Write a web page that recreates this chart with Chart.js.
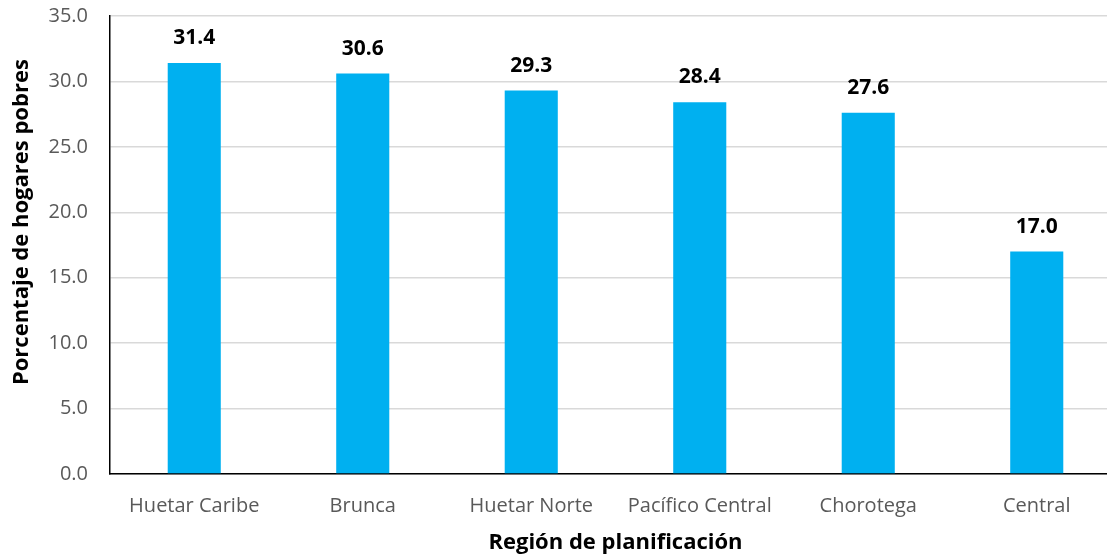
<!DOCTYPE html>
<html>
<head>
<meta charset="utf-8">
<script src="https://cdn.jsdelivr.net/npm/chart.js@4.4.0/dist/chart.umd.min.js"></script>
<style>
  html, body { margin: 0; padding: 0; background: #fff; overflow: hidden; }
  #wrap { width: 1121px; height: 576px; margin-top: -18px; }
</style>
</head>
<body>
<div id="wrap"><canvas id="chart" width="1121" height="576"></canvas></div>
<script>
// ====== DATOS ======
const regiones = ["Huetar Caribe", "Brunca", "Huetar Norte", "Pacífico Central", "Chorotega", "Central"];
const hogaresPobres = [31.4, 30.6, 29.3, 28.4, 27.6, 17.0];
const yTicks = [0, 5, 10, 15, 20, 25, 30, 35];

const FONT = "'Open Sans', sans-serif";

// etiquetas de valor sobre cada barra
const etiquetasPlugin = {
  id: "etiquetas",
  afterDatasetsDraw(chart) {
    const ctx = chart.ctx;
    const meta = chart.getDatasetMeta(0);
    ctx.save();
    ctx.font = "bold 21px " + FONT;
    ctx.fillStyle = "#000";
    ctx.textAlign = "center";
    ctx.textBaseline = "middle";
    meta.data.forEach((bar, i) => {
      ctx.fillText(hogaresPobres[i].toFixed(1), bar.x, bar.y - 25);
    });
    ctx.restore();
  }
};

new Chart(document.getElementById("chart").getContext("2d"), {
  type: "bar",
  data: {
    labels: regiones,
    datasets: [{
      data: hogaresPobres,
      backgroundColor: "#00B0F0",
      borderWidth: 0,
      categoryPercentage: 1,
      barPercentage: 0.315
    }]
  },
  options: {
    responsive: false,
    animation: false,
    layout: { padding: { top: 0, left: 0, right: 0, bottom: 0 } },
    plugins: { legend: { display: false }, tooltip: { enabled: false } },
    scales: {
      x: {
        afterFit: axis => { axis.height = 84; },
        grid: { display: false, drawTicks: false },
        border: { color: "#000", width: 1.5 },
        ticks: { color: "#595959", font: { family: FONT, size: 20 }, padding: 20 },
        title: { display: true, text: "Región de planificación", color: "#000", font: { family: FONT, size: 22, weight: "bold" }, padding: { top: 2, bottom: 2 } }
      },
      y: {
        min: 0,
        max: 35,
        afterFit: axis => { axis.width = 110; },
        afterBuildTicks: axis => { axis.ticks = yTicks.map(v => ({ value: v })); },
        grid: { color: "#D9D9D9", lineWidth: 1.5, drawTicks: false },
        border: { color: "#000", width: 1.5 },
        ticks: { color: "#595959", font: { family: FONT, size: 20 }, padding: 22, callback: v => v.toFixed(1) },
        // espacios al inicio para subir un poco el titulo, como en el original
        title: { display: true, text: "        Porcentaje de hogares pobres", color: "#000", font: { family: FONT, size: 22, weight: "bold" }, padding: { top: 9, bottom: 9 } }
      }
    }
  },
  plugins: [etiquetasPlugin]
});
</script>
</body>
</html>
